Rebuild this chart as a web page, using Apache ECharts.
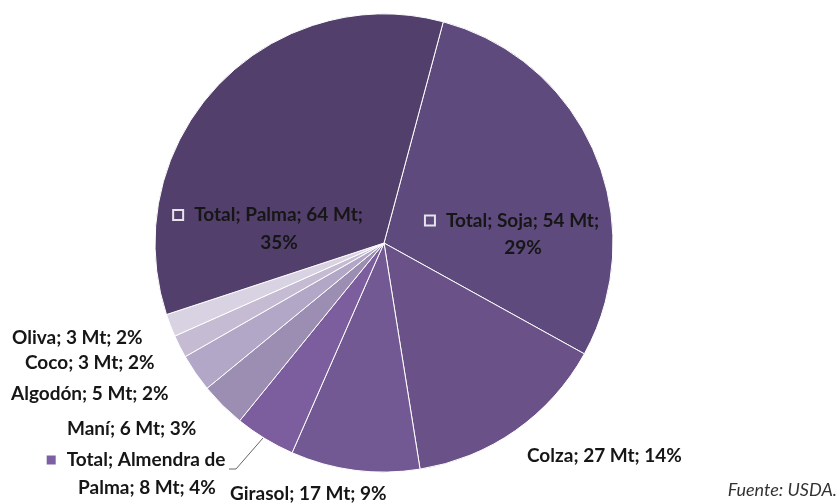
<!DOCTYPE html>
<html>
<head>
<meta charset="utf-8">
<script src="https://cdn.jsdelivr.net/npm/echarts@6/dist/echarts.min.js"></script>
<style>html,body{margin:0;padding:0;background:#fff;}#c{width:839px;height:504px;}</style>
</head>
<body>
<div id="c"></div>
<script>
// Data (clockwise from the top, starting with Soja)
var names = ['Soja', 'Colza', 'Girasol', 'Almendra de Palma', 'Maní', 'Algodón', 'Coco', 'Oliva', 'Palma'];
var valuesMt = [54, 27, 17, 8, 6, 5, 3, 3, 64];
var percentLabels = [29, 14, 9, 4, 3, 2, 2, 2, 35];
var isTotal = [true, false, false, true, false, false, false, false, true];
var source = 'Fuente: USDA.';

// Styles / layout
var colors = ['#5e4a7c', '#6a5188', '#735993', '#7c5e9f', '#9c8db3', '#b2a7c6', '#c5bcd4', '#d8d2e2', '#533f6b'];
var labelAnchor = [
  {x: 512, y: 234, align: 'center', lh: 27},
  {x: 527, y: 456, align: 'left'},
  {x: 230, y: 494, align: 'left'},
  {x: 136, y: 474, align: 'center', lh: 28},
  {x: 67, y: 429, align: 'left'},
  {x: 11, y: 394, align: 'left'},
  {x: 25, y: 363, align: 'left'},
  {x: 12, y: 338, align: 'left'},
  {x: 268, y: 229, align: 'center', lh: 28}
];
var leader = {3: [[263, 438], [236, 469], [229, 469]]};

var FONT = 'Lato';
var FS = 19;

function labelText(i) {
  var n = names[i], v = valuesMt[i], p = percentLabels[i];
  if (i === 3) {
    return '{sqf|}{gap|}{t|Total; Almendra de}\n{t2|Palma; ' + v + ' Mt; ' + p + '%}';
  }
  if (isTotal[i]) {
    return '{sq|}{gap|}{t|Total; ' + n + '; ' + v + ' Mt;}\n{t2|' + p + '%}';
  }
  return '{t|' + n + '; ' + v + ' Mt; ' + p + '%}';
}

var data = names.map(function (n, i) {
  var lh = labelAnchor[i].lh || 22;
  return {
    name: n,
    value: valuesMt[i],
    itemStyle: {color: colors[i]},
    label: {
      formatter: labelText(i),
      rich: {
        t: {fontFamily: FONT, fontWeight: 'bold', fontSize: FS, color: '#161616', lineHeight: lh},
        t2: {fontFamily: FONT, fontWeight: 'bold', fontSize: FS, color: '#161616', lineHeight: lh,
             padding: [0, 0, 0, 22]},
        gap: {width: 11, height: 10},
        sq: {width: 10, height: 10, borderColor: '#e6e3ea', borderWidth: 1, backgroundColor: 'transparent'},
        sqf: {width: 9, height: 9, backgroundColor: '#7d5fa3'}
      }
    },
    labelLine: {show: i === 3, lineStyle: {color: '#666', width: 1}}
  };
});

var chart = echarts.init(document.getElementById('c'), null, {renderer: 'canvas'});
chart.setOption({
  animation: false,
  backgroundColor: '#ffffff',
  graphic: [{
    type: 'text', right: 2, top: 481,
    style: {text: source, fontFamily: FONT, fontStyle: 'italic', fontSize: 18, fill: '#333'}
  }],
  series: [{
    type: 'pie',
    center: [384, 243],
    radius: [0, 229],
    startAngle: 75,
    clockwise: true,
    avoidLabelOverlap: false,
    itemStyle: {borderColor: '#ffffff', borderWidth: 1},
    label: {show: true, position: 'outside'},
    labelLine: {show: false, length: 5, length2: 5},
    data: data,
    labelLayout: function (params) {
      var a = labelAnchor[params.dataIndex];
      var res = {x: a.x, y: a.y, align: a.align, verticalAlign: 'middle', hideOverlap: false, moveOverlap: false};
      if (leader[params.dataIndex]) res.labelLinePoints = leader[params.dataIndex];
      return res;
    }
  }]
});
</script>
</body>
</html>
